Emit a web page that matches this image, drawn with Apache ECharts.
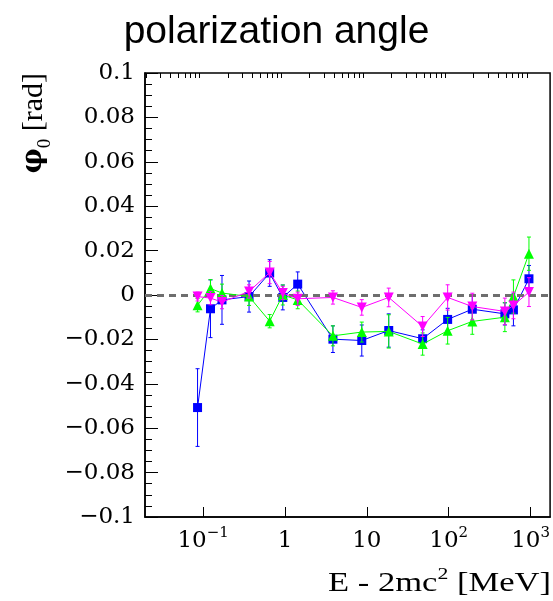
<!DOCTYPE html>
<html>
<head>
<meta charset="utf-8">
<script src="https://cdn.jsdelivr.net/npm/echarts@6/dist/echarts.min.js"></script>
<style>
html,body{margin:0;padding:0;background:#fff;}
#chart{width:553px;height:601px;}
</style>
</head>
<body>
<div id="chart"></div>
<script>
// ---- data ----
const energies = [0.0855, 0.123, 0.17, 0.364, 0.65, 0.94, 1.43, 3.85, 8.67, 18.5, 48, 97, 194, 485, 617, 955];
const blueValues  = [-0.0507, -0.0062, -0.0022, -0.0007, 0.0099, -0.0011, 0.0049, -0.0199, -0.0205, -0.0160, -0.0197, -0.0110, -0.0064, -0.0085, -0.0067, 0.0073];
const blueErrors  = [0.0175, 0.013, 0.011, 0.007, 0.006, 0.0056, 0.0055, 0.006, 0.007, 0.0075, 0.004, 0.005, 0.006, 0.005, 0.0072, 0.006];
const greenValues = [-0.0046, 0.0029, 0.0009, -0.0007, -0.0118, 0.0000, -0.0022, -0.0184, -0.0167, -0.0164, -0.0221, -0.0161, -0.0119, -0.0100, -0.0007, 0.0186];
const greenErrors = [0.003, 0.004, 0.004, 0.004, 0.003, 0.0045, 0.004, 0.0045, 0.0045, 0.0075, 0.005, 0.006, 0.0058, 0.0065, 0.0075, 0.0075];
const magentaValues = [-0.0007, -0.0014, -0.0032, 0.0016, 0.0101, 0.0009, -0.0017, -0.0011, -0.0056, -0.0011, -0.0142, -0.0011, -0.0052, -0.0074, -0.0047, 0.0013];
const magentaErrors = [0.002, 0.003, 0.003, 0.003, 0.005, 0.003, 0.003, 0.003, 0.0035, 0.0042, 0.0045, 0.0057, 0.006, 0.006, 0.006, 0.0065];
const xRange = [0.0195, 1730];
const yRange = [-0.1, 0.1];
const xMajorTicks = [0.1, 1, 10, 100, 1000];
const xTickLabels = ['10{sup|\u22121}', '1', '10', '10{sup|2}', '10{sup|3}'];
const titleText = 'polarization angle';

// ---- helpers ----
const lg = Math.log10;
const xMinorTicks = [];
for (let d = -2; d <= 3; d++) {
  for (let m = 2; m <= 9; m++) {
    const v = m * Math.pow(10, d);
    if (v >= xRange[0] && v <= xRange[1]) xMinorTicks.push(lg(v));
  }
}
const yMinor = [];
for (let i = -20; i <= 20; i++) yMinor.push(i * 0.005);

function pts(vals) { return vals.map((v, i) => [lg(energies[i]), v]); }
function errData(vals, errs) { return vals.map((v, i) => [lg(energies[i]), v - errs[i], v + errs[i]]); }

function errSeries(vals, errs, color, z) {
  return {
    type: 'custom',
    z: z,
    data: errData(vals, errs),
    renderItem: function (params, api) {
      const x = api.value(0);
      const lo = api.coord([x, api.value(1)]);
      const hi = api.coord([x, api.value(2)]);
      const c = 2;
      return {
        type: 'group',
        children: [
          { type: 'line', shape: { x1: lo[0], y1: lo[1], x2: hi[0], y2: hi[1] }, style: { stroke: color, lineWidth: 1 } },
          { type: 'line', shape: { x1: lo[0] - c, y1: lo[1], x2: lo[0] + c, y2: lo[1] }, style: { stroke: color, lineWidth: 1 } },
          { type: 'line', shape: { x1: hi[0] - c, y1: hi[1], x2: hi[0] + c, y2: hi[1] }, style: { stroke: color, lineWidth: 1 } }
        ]
      };
    },
    silent: true
  };
}

function lineSeries(vals, color, symbol, size, rotate, z) {
  return {
    type: 'line',
    data: pts(vals),
    z: z,
    symbol: symbol,
    symbolSize: size,
    symbolRotate: rotate,
    showAllSymbol: true,
    lineStyle: { color: color, width: 1 },
    itemStyle: { color: color, borderWidth: 0 },
    emphasis: { disabled: true },
    animation: false
  };
}

const chart = echarts.init(document.getElementById('chart'), null, { renderer: 'canvas' });
const serif = 'Liberation Serif';
const tickFont = 'DejaVu Serif';

chart.setOption({
  animation: false,
  backgroundColor: '#ffffff',
  title: {
    text: titleText,
    left: 'center',
    top: 8,
    textStyle: { fontFamily: 'Liberation Sans', fontWeight: 'normal', fontSize: 39, color: '#000' }
  },
  grid: {
    left: 145, top: 73, right: 2, bottom: 84,
    show: true, borderColor: '#000', borderWidth: 1.5, backgroundColor: 'transparent'
  },
  xAxis: [
    {
      type: 'value', min: lg(xRange[0]), max: lg(xRange[1]),
      axisLine: { show: true, onZero: false, lineStyle: { color: '#000', width: 1.5 } },
      axisTick: { show: true, inside: true, length: 10, customValues: xMajorTicks.map(lg), lineStyle: { color: '#000' } },
      axisLabel: {
        show: true, customValues: xMajorTicks.map(lg), margin: 9,
        formatter: function (v) { const i = xMajorTicks.map(lg).findIndex(t => Math.abs(t - v) < 1e-6); return i >= 0 ? xTickLabels[i] : ''; },
        fontFamily: tickFont, fontSize: 23, color: '#000', lineHeight: 30,
        rich: { sup: { fontFamily: tickFont, fontSize: 15, color: '#000', verticalAlign: 'top', lineHeight: 16 } }
      },
      splitLine: { show: false }
    },
    {
      type: 'value', min: lg(xRange[0]), max: lg(xRange[1]),
      axisLine: { show: false, onZero: false },
      axisTick: { show: true, inside: true, length: 5, customValues: xMinorTicks, lineStyle: { color: '#000' } },
      axisLabel: { show: false },
      splitLine: { show: false }
    }
  ],
  yAxis: [
    {
      type: 'value', min: yRange[0], max: yRange[1], interval: 0.02,
      axisLine: { show: true, onZero: false, lineStyle: { color: '#000', width: 1.5 } },
      axisTick: { show: true, inside: true, length: 13, lineStyle: { color: '#000' } },
      axisLabel: {
        margin: 10, fontFamily: tickFont, fontSize: 23, color: '#000',
        formatter: function (v) { return String(parseFloat(v.toFixed(3))).replace('-', '\u2212'); }
      },
      splitLine: { show: false }
    },
    {
      type: 'value', min: yRange[0], max: yRange[1], position: 'left',
      axisLine: { show: false, onZero: false },
      axisTick: { show: true, inside: true, length: 7, customValues: yMinor, lineStyle: { color: '#000' } },
      axisLabel: { show: false },
      splitLine: { show: false }
    }
  ],
  series: [
    {
      type: 'line', data: [], silent: true,
      markLine: {
        silent: true, symbol: 'none', animation: false,
        label: { show: false },
        lineStyle: { color: '#6e6e6e', type: [7, 5], width: 3 },
        data: [{ yAxis: 0 }]
      },
      z: 1
    },
    errSeries(blueValues, blueErrors, '#0000ff', 3),
    lineSeries(blueValues, '#0000ff', 'rect', 9, 0, 4),
    errSeries(greenValues, greenErrors, '#00ff00', 5),
    lineSeries(greenValues, '#00ff00', 'triangle', 10, 0, 6),
    errSeries(magentaValues, magentaErrors, '#ff00ff', 7),
    lineSeries(magentaValues, '#ff00ff', 'triangle', 10, 180, 8)
  ],
  graphic: [
    {
      type: 'text', x: 34, y: 73, rotation: Math.PI / 2,
      style: {
        text: '{p|\u03c6}{s|0}{r| [rad]}',
        align: 'right', verticalAlign: 'middle',
        rich: {
          p: { fontFamily: 'DejaVu Serif', fontSize: 28, fontWeight: 'bold', fill: '#000', verticalAlign: 'middle' },
          s: { fontFamily: serif, fontSize: 19, fill: '#000', verticalAlign: 'bottom', lineHeight: 42 },
          r: { fontFamily: serif, fontSize: 30, fill: '#000', verticalAlign: 'middle' }
        }
      }
    },
    {
      type: 'text', x: 551, y: 584, scaleX: 1.28,
      style: {
        text: '{m|E - 2mc}{sup|2}{m| [MeV]}',
        align: 'right', verticalAlign: 'middle',
        rich: {
          m: { fontFamily: serif, fontSize: 27, fill: '#000', lineHeight: 36 },
          sup: { fontFamily: serif, fontSize: 17, fill: '#000', verticalAlign: 'top', lineHeight: 20 }
        }
      }
    }
  ]
});
</script>
</body>
</html>
